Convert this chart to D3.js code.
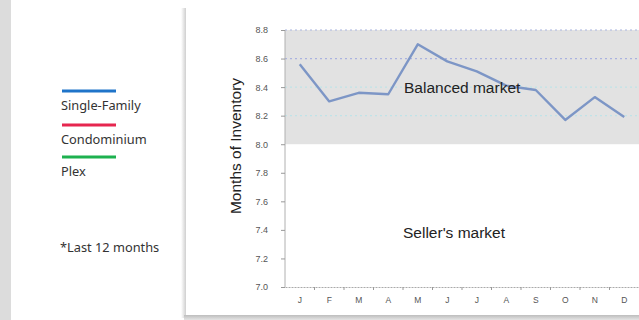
<!DOCTYPE html>
<html>
<head>
<meta charset="utf-8">
<script src="https://cdn.jsdelivr.net/npm/d3@7"></script>
<style>
  body { margin: 0; background: #fff; }
  svg { display: block; }
</style>
</head>
<body>
<svg width="639" height="320"></svg>
<script>
// data
var months = ["J", "F", "M", "A", "M", "J", "J", "A", "S", "O", "N", "D"];
var singleFamily = [8.56, 8.30, 8.36, 8.35, 8.70, 8.58, 8.51, 8.41, 8.38, 8.17, 8.33, 8.19];
var yTicks = [7.0, 7.2, 7.4, 7.6, 7.8, 8.0, 8.2, 8.4, 8.6, 8.8];
var balancedRange = [8.0, 8.8];
var legendNames = ["Single-Family", "Condominium", "Plex"];
var legendColors = ["#1f74c9", "#e6264f", "#1db14f"];

var svg = d3.select("svg");

// background pieces
svg.append("rect").attr("x", 0).attr("y", 0).attr("width", 11).attr("height", 320).attr("fill", "#dcdcdc");

var defs = svg.append("defs");
var grad = defs.append("linearGradient").attr("id", "shadowB").attr("x1", 0).attr("y1", 0).attr("x2", 0).attr("y2", 1);
grad.append("stop").attr("offset", "0%").attr("stop-color", "#bdbdbd");
grad.append("stop").attr("offset", "100%").attr("stop-color", "#e4e4e4");
var gradL = defs.append("linearGradient").attr("id", "shadowL").attr("x1", 0).attr("y1", 0).attr("x2", 1).attr("y2", 0);
gradL.append("stop").attr("offset", "0%").attr("stop-color", "#ffffff");
gradL.append("stop").attr("offset", "100%").attr("stop-color", "#cfcfcf");

// card with shadow
svg.append("rect").attr("x", 181).attr("y", 8).attr("width", 5).attr("height", 310).attr("fill", "url(#shadowL)");
svg.append("rect").attr("x", 184).attr("y", 315).attr("width", 455).attr("height", 5).attr("fill", "url(#shadowB)");
svg.append("rect").attr("x", 186).attr("y", 0).attr("width", 453).attr("height", 315).attr("fill", "#fff");

var margin = {top: 30, left: 285, right: 639, bottom: 287};

var x = d3.scaleBand().domain(d3.range(months.length)).range([margin.left, margin.right]);
var y = d3.scaleLinear().domain([7.0, 8.8]).range([margin.bottom, margin.top]);

// balanced band
svg.append("rect")
  .attr("x", margin.left)
  .attr("y", y(balancedRange[1]))
  .attr("width", margin.right - margin.left)
  .attr("height", y(balancedRange[0]) - y(balancedRange[1]))
  .attr("fill", "#e2e2e2");

// dotted gridlines
var gridColors = {"8.2": "#bfe3e8", "8.4": "#bfe3e8", "8.6": "#aab2e0", "8.8": "#aab6e0"};
svg.append("g").selectAll("line")
  .data([8.2, 8.4, 8.6, 8.8])
  .enter().append("line")
  .attr("x1", margin.left).attr("x2", margin.right)
  .attr("y1", function(d) { return y(d); })
  .attr("y2", function(d) { return y(d); })
  .attr("stroke", function(d) { return gridColors[d.toFixed(1)]; })
  .attr("stroke-width", 1.2)
  .attr("stroke-dasharray", "2,3");

// y axis
var yAxis = svg.append("g")
  .attr("transform", "translate(" + margin.left + ",0)")
  .call(d3.axisLeft(y).tickValues(yTicks).tickFormat(d3.format(".1f")).tickSize(4).tickPadding(13));
yAxis.select(".domain").attr("stroke", "#b0b0b0").attr("d", "M0," + margin.top + "V" + margin.bottom);
yAxis.selectAll(".tick line").attr("stroke", "#999");
yAxis.selectAll(".tick text").attr("fill", "#555").style("font-family", "Liberation Sans, Arial, sans-serif").style("font-size", "9px");

// x axis
var xAxis = svg.append("g")
  .attr("transform", "translate(0," + margin.bottom + ")")
  .call(d3.axisBottom(x).tickFormat(function(i) { return months[i]; }).tickSize(0).tickPadding(10));
xAxis.select(".domain").attr("stroke", "#aaa").attr("stroke-dasharray", "2,1");
xAxis.selectAll(".tick text").attr("fill", "#555").style("font-family", "Liberation Sans, Arial, sans-serif").style("font-size", "8.5px");
xAxis.selectAll(".bnd")
  .data(d3.range(1, months.length))
  .enter().append("line")
  .attr("x1", function(i) { return x(i); })
  .attr("x2", function(i) { return x(i); })
  .attr("y1", 0).attr("y2", 3)
  .attr("stroke", "#999");

// y title
svg.append("text")
  .attr("transform", "translate(241,146) rotate(-90)")
  .attr("text-anchor", "middle")
  .style("font-family", "Liberation Sans, Arial, sans-serif")
  .style("font-size", "15.5px")
  .attr("fill", "#222")
  .text("Months of Inventory");

// line
var line = d3.line()
  .x(function(d, i) { return x(i) + x.bandwidth() / 2; })
  .y(function(d) { return y(d); });

svg.append("path")
  .datum(singleFamily)
  .attr("fill", "none")
  .attr("stroke", "#7d96c6")
  .attr("stroke-width", 2.4)
  .attr("stroke-linejoin", "round")
  .attr("d", line);

// region labels
svg.append("text")
  .attr("x", 404).attr("y", 93)
  .style("font-family", "Liberation Sans, Arial, sans-serif")
  .style("font-size", "15.5px")
  .attr("fill", "#222")
  .text("Balanced market");

svg.append("text")
  .attr("x", 403).attr("y", 238)
  .style("font-family", "Liberation Sans, Arial, sans-serif")
  .style("font-size", "15.5px")
  .attr("fill", "#222")
  .text("Seller's market");

// legend
var legendY = [91, 125, 157];
var legend = svg.append("g").selectAll("g")
  .data(legendNames)
  .enter().append("g")
  .attr("transform", function(d, i) { return "translate(62," + legendY[i] + ")"; });

legend.append("line")
  .attr("x1", 0).attr("x2", 54)
  .attr("y1", 0).attr("y2", 0)
  .attr("stroke", function(d, i) { return legendColors[i]; })
  .attr("stroke-width", 3);

legend.append("text")
  .attr("x", -1).attr("y", 19)
  .style("font-family", "Noto Sans, sans-serif")
  .style("font-size", "12.8px")
  .attr("fill", "#333")
  .text(function(d) { return d; });

svg.append("text")
  .attr("x", 60).attr("y", 252)
  .style("font-family", "Noto Sans, sans-serif")
  .style("font-size", "12.8px")
  .attr("fill", "#333")
  .text("*Last 12 months");
</script>
</body>
</html>
